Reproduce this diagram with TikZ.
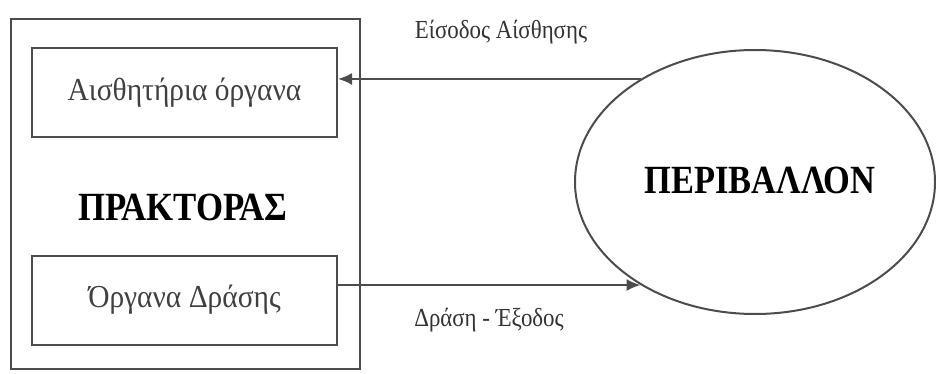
\documentclass[tikz,border=0pt]{standalone}
\usepackage{fontspec}
\setmainfont{Liberation Serif}
\usetikzlibrary{shapes.geometric,arrows.meta}

\begin{document}
\begin{tikzpicture}[x=1pt, y=-1pt,
  box/.style = {shape=rectangle, draw=black!70, line width=2pt,
    minimum width=305pt, minimum height=89pt, text=black!75,
    font=\fontsize{32}{34}\selectfont},
  title/.style = {font=\bfseries\fontsize{40}{42}\selectfont},
  note/.style = {text=black!80, font=\fontsize{26}{28}\selectfont},
  flow/.style = {draw=black!70, line width=2pt, -{Latex[length=14pt,width=12pt]}}]
  \useasboundingbox (0,0) rectangle (936,374);
  % the agent with its two parts
  \node[draw=black!70, line width=2pt, minimum width=349pt,
    minimum height=349pt] (agent) at (185,194) {};
  \node[box] (sensors) at (184.5,93) {\scalebox{0.92}[1]{Αισθητήρια όργανα}};
  \node[title] (agentname) at (183,207) {\scalebox{0.87}[1]{ΠΡΑΚΤΟΡΑΣ}};
  \node[box] (actuators) at (184.5,300) {\scalebox{0.92}[1]{Όργανα Δράσης}};
  % the environment
  \node[ellipse, draw=black!70, line width=2pt, minimum width=360pt,
    minimum height=264pt, title] (env) at (755,182) {};
  \node[title] (envname) at (760,180) {\scalebox{0.86}[1]{ΠΕΡΙΒΑΛΛΟΝ}};
  % percept and action
  \draw[flow] (env.138) -- (env.138 -| sensors.east);
  \draw[flow] (actuators.east |- env.222) -- (env.222);
  \node[note] (percept) at (501,32) {\scalebox{0.88}[1]{Είσοδος Αίσθησης}};
  \node[note] (action) at (489,320) {\scalebox{0.88}[1]{Δράση - Έξοδος}};
\end{tikzpicture}
\end{document}
